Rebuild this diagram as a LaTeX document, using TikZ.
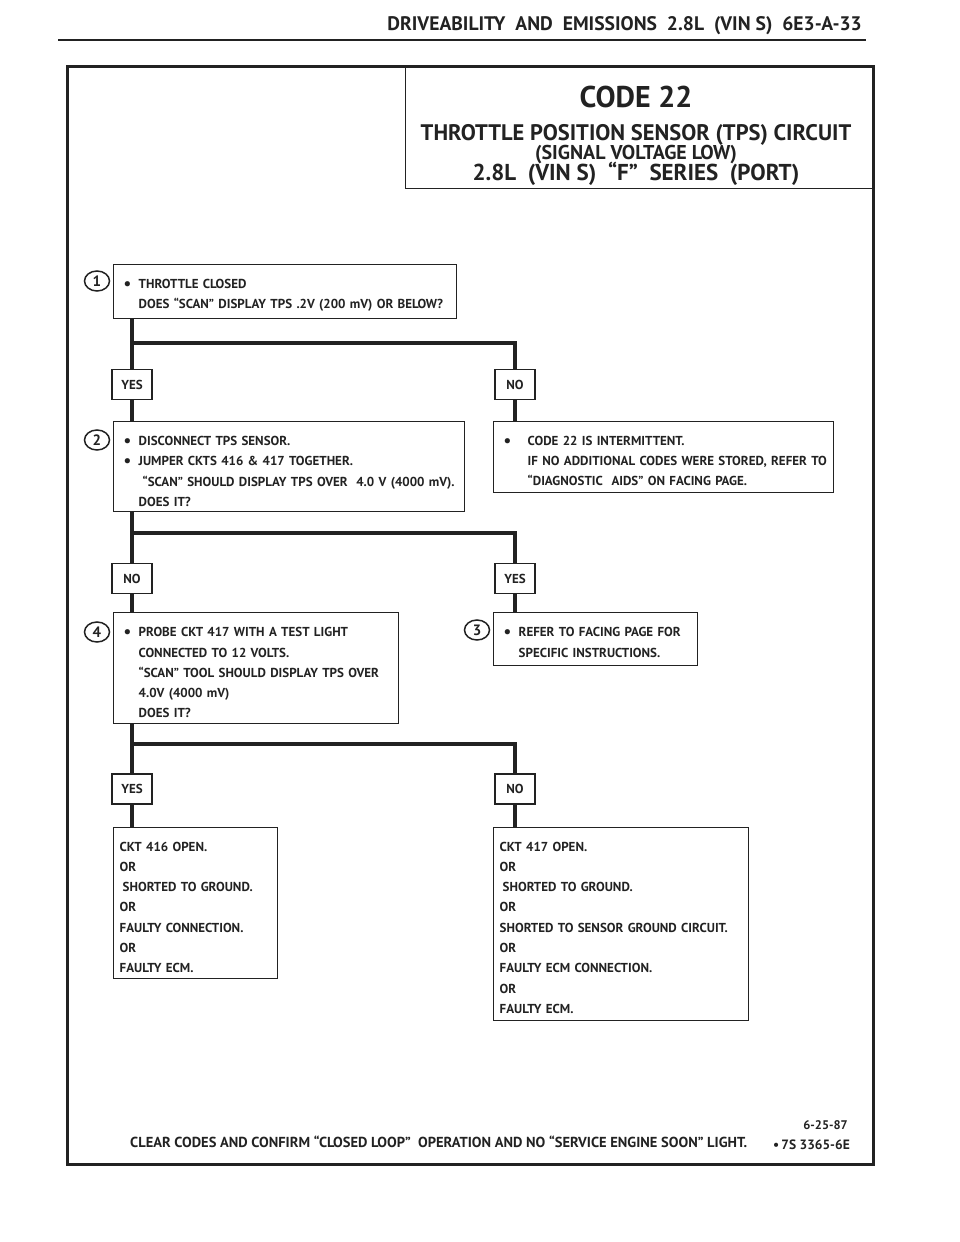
\documentclass[tikz,border=0pt]{standalone}
\usepackage{fontspec}
\setmainfont{PT Sans}
\usetikzlibrary{shapes.geometric}
\definecolor{ink}{HTML}{222222}
\newcommand\mybul[1]{\makebox[#1][l]{\raisebox{-1pt}{\fontsize{17}{17}\selectfont\textbullet}}}
\begin{document}
\begin{tikzpicture}[x=1pt,y=-1pt,
  every node/.style={text=ink},
  bx/.style={draw=ink, line width=1.4pt, anchor=north west, inner xsep=10pt, inner ysep=0pt, align=left,
    font=\bfseries\fontsize{13}{20.3}\selectfont},
  lbl/.style={draw=ink, line width=1.4pt, minimum width=40pt, minimum height=30pt, inner sep=0pt,
    font=\bfseries\fontsize{13}{13}\selectfont},
  num/.style={draw=ink, ellipse, line width=1.5pt, minimum width=25pt, minimum height=20pt, inner sep=0pt,
    font=\bfseries\fontsize{15}{15}\selectfont},
  conn/.style={draw=ink, line width=4pt},
  ttl/.style={anchor=base, inner sep=0pt, font=\bfseries}
]
\useasboundingbox (0,0) rectangle (960,1242);

% header
\node[anchor=base east, inner sep=0pt, font=\bfseries\fontsize{19.6}{19.6}\selectfont] (hdr) at (862,30)
  {DRIVEABILITY\ \ AND\ \ EMISSIONS\ \ 2.8L\ \ (VIN S)\ \ 6E3-A-33};
\draw[draw=ink, line width=2.5pt] (58,40) -- (866,40);

% frame
\draw[draw=ink, line width=3pt] (67,66) rectangle (873,1164);

% title
\node[draw=ink, line width=1.4pt, minimum width=468pt, minimum height=122pt, anchor=north west, inner sep=0pt] (title) at (405,66) {};
\node[ttl, font=\bfseries\fontsize{30}{30}\selectfont] (t1) at (636,107) {CODE 22};
\node[ttl, font=\bfseries\fontsize{22.5}{22}\selectfont] (t2) at (636,140) {THROTTLE POSITION SENSOR (TPS) CIRCUIT};
\node[ttl, font=\bfseries\fontsize{20}{20}\selectfont] (t3) at (636,159) {(SIGNAL VOLTAGE LOW)};
\node[ttl, font=\bfseries\fontsize{23}{23}\selectfont] (t4) at (636,180) {2.8L\ \ (VIN S)\ \ “F”\ \ SERIES\ \ (PORT)};

% step 1
\node[bx, text width=323pt, text height=23.5pt, text depth=30.5pt] (b1) at (113,264)
  {\mybul{15pt}THROTTLE CLOSED\\\hspace*{15pt}\mbox{DOES “SCAN” DISPLAY TPS .2V (200 mV) OR BELOW?}};
\node[num] (c1) at (97,281) {1};

\coordinate (h1l) at (132,343);
\coordinate (h1r) at (515,343);
\node[lbl] (y1) at (132,384.5) {YES};
\node[lbl] (n1) at (515,384.5) {NO};

% step 2
\node[bx, text width=331pt, text height=23.7pt, text depth=66.3pt] (b2) at (113,421)
  {\mybul{15pt}DISCONNECT TPS SENSOR.\\\mybul{15pt}JUMPER CKTS 416 \& 417 TOGETHER.\\
   \hspace*{19pt}\mbox{“SCAN” SHOULD DISPLAY TPS OVER\ \ 4.0 V (4000 mV).}\\\hspace*{15pt}DOES IT?};
\node[num] (c2) at (97,440) {2};

\node[bx, text width=320pt, text height=23.3pt, text depth=47.7pt] (b2r) at (493,421)
  {\mybul{24pt}CODE 22 IS INTERMITTENT.\\\hspace*{24pt}\mbox{IF NO ADDITIONAL CODES WERE STORED, REFER TO}\\
   \hspace*{24pt}\mbox{“DIAGNOSTIC\ \ AIDS” ON FACING PAGE.}};

\draw[conn] (b1.south -| y1) -- (y1.north);
\draw[conn] (y1.south) -- (y1 |- b2.north);
\draw[conn] (h1l) -- (h1r) -- (n1.north);
\draw[conn] (n1.south) -- (n1 |- b2r.north);

% step 4 / 3
\coordinate (h2l) at (132,533);
\coordinate (h2r) at (515,533);
\node[lbl] (n2) at (132,578.5) {NO};
\node[lbl] (y2) at (515,578.5) {YES};

\node[bx, text width=265pt, text height=24pt, text depth=87pt] (b4) at (113,612)
  {\mybul{15pt}\mbox{PROBE CKT 417 WITH A TEST LIGHT}\\\hspace*{15pt}CONNECTED TO 12 VOLTS.\\
   \hspace*{15pt}\mbox{“SCAN” TOOL SHOULD DISPLAY TPS OVER}\\\hspace*{15pt}4.0V (4000 mV)\\\hspace*{15pt}DOES IT?};
\node[num] (c4) at (97,632) {4};

\node[bx, text width=184pt, text height=24pt, text depth=29pt] (b3) at (493,612)
  {\mybul{15pt}\mbox{REFER TO FACING PAGE FOR}\\\hspace*{15pt}\mbox{SPECIFIC INSTRUCTIONS.}};
\node[num] (c3) at (477,630) {3};

\draw[conn] (b2.south -| n2) -- (n2.north);
\draw[conn] (n2.south) -- (n2 |- b4.north);
\draw[conn] (h2l) -- (h2r) -- (y2.north);
\draw[conn] (y2.south) -- (y2 |- b3.north);

% results
\coordinate (h3l) at (132,744);
\coordinate (h3r) at (515,744);
\node[lbl] (y3) at (132,789) {YES};
\node[lbl] (n3) at (515,789) {NO};

\node[bx, inner xsep=6pt, text width=152pt, text height=23.3pt, text depth=127.7pt] (b5) at (113,827)
  {CKT 416 OPEN.\\OR\\\hspace*{3pt}SHORTED TO GROUND.\\OR\\FAULTY CONNECTION.\\OR\\FAULTY ECM.};
\node[bx, inner xsep=6pt, text width=243pt, text height=23.3pt, text depth=169.7pt] (b6) at (493,827)
  {CKT 417 OPEN.\\OR\\\hspace*{3pt}SHORTED TO GROUND.\\OR\\\mbox{SHORTED TO SENSOR GROUND CIRCUIT.}\\OR\\FAULTY ECM CONNECTION.\\OR\\FAULTY ECM.};

\draw[conn] (b4.south -| y3) -- (y3.north);
\draw[conn] (y3.south) -- (y3 |- b5.north);
\draw[conn] (h3l) -- (h3r) -- (n3.north);
\draw[conn] (n3.south) -- (n3 |- b6.north);

% footer
\node[anchor=base west, inner sep=0pt, font=\bfseries\fontsize{14.5}{14.5}\selectfont] (ft) at (130,1147)
  {CLEAR CODES AND CONFIRM “CLOSED LOOP”\ \ OPERATION AND NO “SERVICE ENGINE SOON” LIGHT.};
\node[anchor=base east, inner sep=0pt, font=\bfseries\fontsize{12.5}{12.5}\selectfont] (dt) at (848,1129) {6-25-87};
\node[anchor=base east, inner sep=0pt, font=\bfseries\fontsize{13.5}{13.5}\selectfont] (ref) at (850,1149) {\textbullet\,7S 3365-6E};
\end{tikzpicture}
\end{document}
